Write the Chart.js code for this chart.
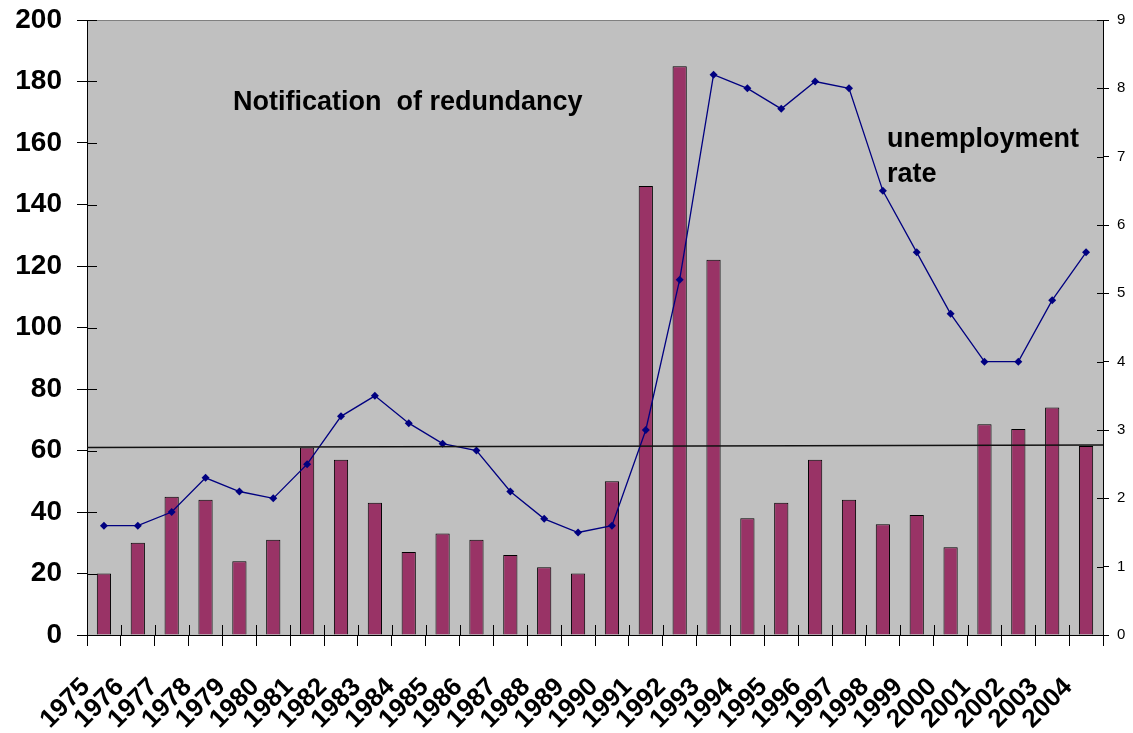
<!DOCTYPE html>
<html>
<head>
<meta charset="utf-8">
<script src="https://cdn.jsdelivr.net/npm/chart.js@4.4.0/dist/chart.umd.min.js"></script>
<style>
    html, body { margin: 0; padding: 0; background: #fff; }
</style>
</head>
<body>
<canvas id="chart" width="1133" height="733"></canvas>
<script>
// data
const years = ['1975', '1976', '1977', '1978', '1979', '1980', '1981', '1982', '1983', '1984',
    '1985', '1986', '1987', '1988', '1989', '1990', '1991', '1992', '1993', '1994',
    '1995', '1996', '1997', '1998', '1999', '2000', '2001', '2002', '2003', '2004'];
// notifications of redundancy (left axis)
const redundancy = [20, 30, 45, 44, 24, 31, 61, 57, 43, 27,
    33, 31, 26, 22, 20, 50, 146, 185, 122, 38,
    43, 57, 44, 36, 39, 28.5, 68.5, 67, 74, 61.5];
// unemployment rate (right axis)
const unemployment = [1.6, 1.6, 1.8, 2.3, 2.1, 2.0, 2.5, 3.2, 3.5, 3.1,
    2.8, 2.7, 2.1, 1.7, 1.5, 1.6, 3.0, 5.2, 8.2, 8.0,
    7.7, 8.1, 8.0, 6.5, 5.6, 4.7, 4.0, 4.0, 4.9, 5.6];
// the horizontal reference line (left axis value at left and right edge)
const refLine = [61, 61.8];

const fontFamily = '"Liberation Sans", Arial, sans-serif';

// grey plot area, inner tick halves, reference line and the two captions
const decor = {
    id: 'decor',
    beforeDraw(chart) {
        const { ctx, chartArea: a } = chart;
        ctx.save();
        ctx.fillStyle = '#c0c0c0';
        ctx.fillRect(a.left, a.top, a.right - a.left, a.bottom - a.top);
        ctx.strokeStyle = '#808080';
        ctx.lineWidth = 1;
        ctx.beginPath();
        ctx.moveTo(a.left, a.top + 0.5);
        ctx.lineTo(a.right, a.top + 0.5);
        ctx.stroke();
        ctx.restore();
    },
    afterDatasetsDraw(chart) {
        const { ctx, chartArea: a, scales } = chart;
        ctx.save();
        ctx.strokeStyle = '#000';
        ctx.lineWidth = 1;
        ctx.beginPath();
        scales.y.ticks.forEach((t, i) => {
            const py = Math.round(scales.y.getPixelForTick(i)) + 0.5;
            ctx.moveTo(a.left, py);
            ctx.lineTo(a.left + 10, py);
        });
        scales.y2.ticks.forEach((t, i) => {
            const py = Math.round(scales.y2.getPixelForTick(i)) + 0.5;
            ctx.moveTo(a.right - 6, py);
            ctx.lineTo(a.right, py);
        });
        for (let i = 0; i <= years.length; i++) {
            const px = Math.round(scales.x.getPixelForValue(i - 0.5)) + 0.5;
            ctx.moveTo(px, a.bottom);
            ctx.lineTo(px, a.bottom - 10);
        }
        ctx.stroke();

        // reference line
        ctx.lineWidth = 1.5;
        ctx.strokeStyle = '#111';
        ctx.beginPath();
        ctx.moveTo(a.left, scales.y.getPixelForValue(refLine[0]));
        ctx.lineTo(a.right, scales.y.getPixelForValue(refLine[1]));
        ctx.stroke();

        // captions
        ctx.fillStyle = '#000';
        ctx.font = 'bold 27px ' + fontFamily;
        ctx.textBaseline = 'alphabetic';
        ctx.fillText('Notification  of redundancy', a.left + 146, a.top + 90);
        ctx.fillText('unemployment', a.left + 800, a.top + 127);
        ctx.fillText('rate', a.left + 800, a.top + 162);
        ctx.restore();
    }
};

// drop the extra room Chart.js keeps for the end tick labels
function noPad(scale) {
    scale.paddingTop = 0;
    scale.paddingBottom = 0;
}

const ctx = document.getElementById('chart').getContext('2d');
const chart = new Chart(ctx, {
    type: 'bar',
    data: {
        labels: years,
        datasets: [{
            type: 'line',
            label: 'unemployment rate',
            data: unemployment,
            yAxisID: 'y2',
            borderColor: '#000080',
            backgroundColor: '#000080',
            borderWidth: 1.3,
            pointStyle: 'rectRot',
            pointRadius: 4,
            pointBorderWidth: 0,
            tension: 0,
            order: 0
        }, {
            label: 'Notification of redundancy',
            data: redundancy,
            yAxisID: 'y',
            backgroundColor: '#993366',
            borderColor: '#000',
            borderWidth: 1,
            barPercentage: 0.42,
            categoryPercentage: 1,
            order: 1
        }]
    },
    options: {
        responsive: false,
        animation: false,
        layout: { padding: { top: 20, left: 0, right: 0, bottom: 0 } },
        plugins: {
            legend: { display: false },
            tooltip: { enabled: false }
        },
        scales: {
            x: {
                grid: { drawOnChartArea: false, tickLength: 11, color: '#000', offset: true },
                border: { display: true, color: '#000', width: 1 },
                ticks: {
                    color: '#000',
                    font: { family: fontFamily, size: 26, weight: 'bold' },
                    minRotation: 45,
                    maxRotation: 45,
                    autoSkip: false,
                    labelOffset: -18,
                    padding: 26
                },
                afterFit(scale) {
                    scale.height = 98;
                    scale.paddingLeft = 0;
                    scale.paddingRight = 0;
                }
            },
            y: {
                position: 'left',
                min: 0,
                max: 200,
                grid: { drawOnChartArea: false, tickLength: 10, color: '#000' },
                border: { display: true, color: '#000', width: 1 },
                ticks: {
                    stepSize: 20,
                    color: '#000',
                    padding: 15,
                    font: { family: fontFamily, size: 28, weight: 'bold' }
                },
                afterFit(scale) { scale.width = 87; noPad(scale); }
            },
            y2: {
                position: 'right',
                min: 0,
                max: 9,
                grid: { drawOnChartArea: false, tickLength: 6, color: '#000' },
                border: { display: true, color: '#000', width: 1 },
                ticks: {
                    stepSize: 1,
                    color: '#000',
                    padding: 8,
                    font: { family: fontFamily, size: 15 }
                },
                afterFit(scale) { scale.width = 30; noPad(scale); }
            }
        }
    },
    plugins: [decor]
});
</script>
</body>
</html>
